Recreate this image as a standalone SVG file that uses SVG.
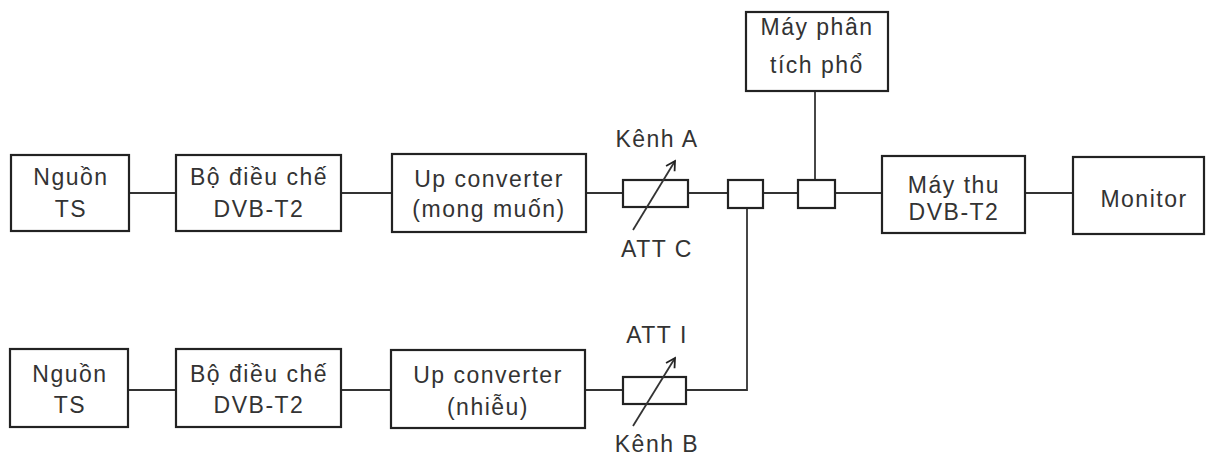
<svg xmlns="http://www.w3.org/2000/svg" width="1212" height="457" viewBox="0 0 1212 457">
<defs>
<style>
.box{fill:#fff;stroke:#222;stroke-width:2.2}
.sm{fill:#fff;stroke:#222;stroke-width:2.2}
.ln{fill:none;stroke:#333;stroke-width:1.8}
text{font-family:"Liberation Sans",Arial,sans-serif;font-size:23px;fill:#333;text-anchor:middle;letter-spacing:1.5px}
</style>
<marker id="ah" viewBox="0 0 12 12" refX="10" refY="6" markerWidth="12" markerHeight="12" markerUnits="userSpaceOnUse" orient="auto">
<path d="M1,1 L10,6 L1,11" fill="none" stroke="#222" stroke-width="1.8"/>
</marker>
</defs>
<rect width="1212" height="457" fill="#fff"/>
<g id="connectors">
<path class="ln" d="M129,193 H176 M341,193 H392 M586,193 H623 M688,193 H728 M763,193 H798 M835,193 H882 M1025,193 H1073"/>
<path class="ln" d="M128,390 H176 M341,390 H391 M585,390 H623 M686,390 H747 V208"/>
<path class="ln" d="M815,91 V180"/>
</g>
<g id="nguon1"><rect class="box" x="11" y="155" width="118" height="76"/><text x="71" y="185">Nguồn</text><text x="71" y="217">TS</text></g>
<g id="bodieuche1"><rect class="box" x="176" y="155" width="165" height="76"/><text x="259" y="185">Bộ điều chế</text><text x="259" y="217">DVB-T2</text></g>
<g id="upconv1"><rect class="box" x="392" y="154" width="194" height="78"/><text x="489" y="187">Up converter</text><text x="489" y="217">(mong muốn)</text></g>
<g id="attc"><rect class="sm" x="623" y="180" width="65" height="27"/><line class="ln" x1="633" y1="230" x2="675" y2="161" marker-end="url(#ah)"/><text x="657" y="147">Kênh A</text><text x="657" y="257">ATT C</text></g>
<g id="coupler1"><rect class="sm" x="728" y="180" width="35" height="28"/></g>
<g id="coupler2"><rect class="sm" x="798" y="180" width="37" height="28"/></g>
<g id="phantich"><rect class="box" x="746" y="12" width="142" height="79"/><text x="817" y="35">Máy phân</text><text x="817" y="73">tích phổ</text></g>
<g id="maythu"><rect class="box" x="882" y="156" width="143" height="77"/><text x="954" y="193">Máy thu</text><text x="954" y="220">DVB-T2</text></g>
<g id="monitor"><rect class="box" x="1073" y="157" width="131" height="77"/><text x="1144" y="207">Monitor</text></g>
<g id="nguon2"><rect class="box" x="10" y="349" width="118" height="78"/><text x="70" y="382">Nguồn</text><text x="70" y="413">TS</text></g>
<g id="bodieuche2"><rect class="box" x="176" y="349" width="165" height="78"/><text x="259" y="382">Bộ điều chế</text><text x="259" y="413">DVB-T2</text></g>
<g id="upconv2"><rect class="box" x="391" y="350" width="194" height="78"/><text x="488" y="383">Up converter</text><text x="488" y="415">(nhiễu)</text></g>
<g id="atti"><rect class="sm" x="623" y="377" width="63" height="27"/><line class="ln" x1="633" y1="426" x2="675" y2="358" marker-end="url(#ah)"/><text x="657" y="343">ATT I</text><text x="657" y="452">Kênh B</text></g>
</svg>
